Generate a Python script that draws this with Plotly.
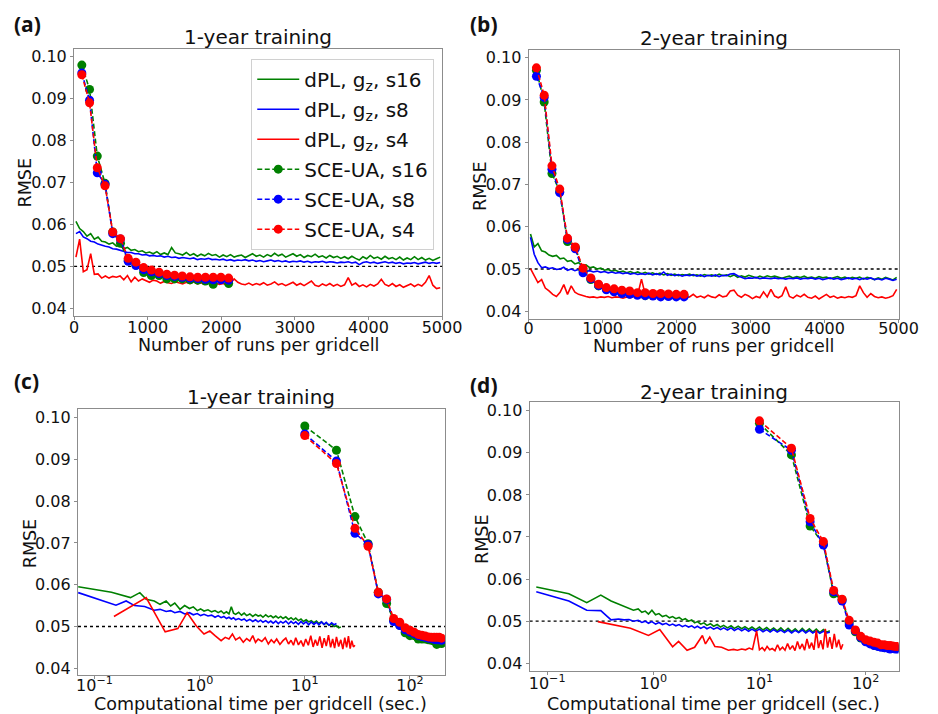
import plotly.graph_objects as go

W, H = 938, 714

# ---------------- data ----------------
# dPL runs grid (panels a, b)
runs_dpl = list(range(25, 5000, 50))

green_a = [
    0.0607, 0.0590, 0.0583, 0.0572, 0.0578, 0.0565, 0.0570, 0.0560, 0.0558, 0.0553,
    0.0556, 0.0548, 0.0550, 0.0542, 0.0545, 0.0538, 0.0540, 0.0535, 0.0537, 0.0532,
    0.0534, 0.0530, 0.0535, 0.0528, 0.0532, 0.0528, 0.0545, 0.0532, 0.0530, 0.0527,
    0.0533, 0.0526, 0.0530, 0.0524, 0.0529, 0.0525, 0.0531, 0.0526, 0.0528, 0.0522,
    0.0527, 0.0523, 0.0528, 0.0522, 0.0525, 0.0527, 0.0521, 0.0526, 0.0530, 0.0524,
    0.0527, 0.0522, 0.0528, 0.0524, 0.0531, 0.0525, 0.0529, 0.0522, 0.0527, 0.0530,
    0.0524, 0.0528, 0.0521, 0.0526, 0.0523, 0.0529, 0.0522, 0.0525, 0.0520, 0.0526,
    0.0521, 0.0524, 0.0519, 0.0523, 0.0518, 0.0524, 0.0519, 0.0515, 0.0523, 0.0518,
    0.0526, 0.0519, 0.0522, 0.0517, 0.0524, 0.0518, 0.0521, 0.0516, 0.0522, 0.0515,
    0.0520, 0.0516, 0.0523, 0.0516, 0.0521, 0.0515, 0.0519, 0.0514, 0.0518, 0.0522]
blue_a = [
    0.0578, 0.0583, 0.0570, 0.0566, 0.0560, 0.0558, 0.0553, 0.0550, 0.0548, 0.0546,
    0.0542, 0.0541, 0.0538, 0.0536, 0.0533, 0.0533, 0.0530, 0.0530, 0.0527, 0.0528,
    0.0525, 0.0526, 0.0524, 0.0525, 0.0522, 0.0524, 0.0521, 0.0522, 0.0519, 0.0521,
    0.0520, 0.0518, 0.0520, 0.0516, 0.0518, 0.0517, 0.0519, 0.0516, 0.0517, 0.0515,
    0.0517, 0.0514, 0.0516, 0.0513, 0.0515, 0.0514, 0.0516, 0.0513, 0.0515, 0.0512,
    0.0514, 0.0511, 0.0513, 0.0515, 0.0512, 0.0514, 0.0511, 0.0513, 0.0510, 0.0512,
    0.0511, 0.0513, 0.0510, 0.0512, 0.0509, 0.0511, 0.0510, 0.0512, 0.0509, 0.0511,
    0.0510, 0.0508, 0.0510, 0.0509, 0.0511, 0.0508, 0.0510, 0.0504, 0.0509, 0.0511,
    0.0508, 0.0510, 0.0507, 0.0509, 0.0511, 0.0508, 0.0510, 0.0507, 0.0509, 0.0506,
    0.0508, 0.0507, 0.0509, 0.0506, 0.0508, 0.0510, 0.0507, 0.0509, 0.0507, 0.0509]
red_a = [
    0.0522, 0.0565, 0.0487, 0.0492, 0.0530, 0.0481, 0.0482, 0.0472, 0.0477, 0.0472,
    0.0476, 0.0474, 0.0477, 0.0468, 0.0478, 0.0463, 0.0474, 0.0465, 0.0470, 0.0466,
    0.0462, 0.0467, 0.0465, 0.0460, 0.0464, 0.0461, 0.0459, 0.0463, 0.0460, 0.0458,
    0.0462, 0.0459, 0.0463, 0.0458, 0.0461, 0.0457, 0.0462, 0.0458, 0.0460, 0.0457,
    0.0459, 0.0456, 0.0460, 0.0470, 0.0462, 0.0458, 0.0456, 0.0460, 0.0455, 0.0459,
    0.0456, 0.0461, 0.0455, 0.0458, 0.0463, 0.0456, 0.0459, 0.0454, 0.0458, 0.0462,
    0.0455, 0.0459, 0.0454, 0.0460, 0.0465, 0.0455, 0.0452, 0.0458, 0.0454, 0.0459,
    0.0453, 0.0457, 0.0452, 0.0456, 0.0473, 0.0455, 0.0460, 0.0452, 0.0456, 0.0451,
    0.0457, 0.0453, 0.0458, 0.0469, 0.0457, 0.0453, 0.0459, 0.0452, 0.0456, 0.0450,
    0.0455, 0.0458, 0.0452, 0.0457, 0.0453, 0.0462, 0.0478, 0.0455, 0.0447, 0.0449]

green_b = [
    0.0583, 0.0552, 0.0560, 0.0543, 0.0540, 0.0533, 0.0530, 0.0532, 0.0524, 0.0526,
    0.0518, 0.0520, 0.0512, 0.0515, 0.0508, 0.0510, 0.0503, 0.0505, 0.0500, 0.0502,
    0.0497, 0.0499, 0.0495, 0.0497, 0.0493, 0.0495, 0.0491, 0.0494, 0.0490, 0.0493,
    0.0489, 0.0492, 0.0488, 0.0491, 0.0487, 0.0490, 0.0486, 0.0489, 0.0485, 0.0488,
    0.0484, 0.0487, 0.0485, 0.0488, 0.0484, 0.0486, 0.0483, 0.0487, 0.0484, 0.0486,
    0.0483, 0.0488, 0.0484, 0.0486, 0.0482, 0.0486, 0.0480, 0.0484, 0.0481, 0.0485,
    0.0482, 0.0479, 0.0483, 0.0480, 0.0484, 0.0481, 0.0483, 0.0480, 0.0478, 0.0481,
    0.0483, 0.0479, 0.0482, 0.0480, 0.0483, 0.0479, 0.0481, 0.0478, 0.0482, 0.0479,
    0.0481, 0.0477, 0.0480, 0.0482, 0.0478, 0.0481, 0.0477, 0.0480, 0.0478, 0.0481,
    0.0476, 0.0480, 0.0478, 0.0475, 0.0479, 0.0476, 0.0480, 0.0477, 0.0474, 0.0480]
blue_b = [
    0.0575, 0.0535, 0.0515, 0.0503, 0.0505, 0.0501, 0.0503, 0.0499, 0.0500, 0.0504,
    0.0497, 0.0500, 0.0496, 0.0499, 0.0495, 0.0494, 0.0496, 0.0493, 0.0495, 0.0492,
    0.0494, 0.0491, 0.0493, 0.0490, 0.0492, 0.0489, 0.0491, 0.0488, 0.0490, 0.0487,
    0.0489, 0.0487, 0.0490, 0.0486, 0.0489, 0.0486, 0.0493, 0.0485, 0.0488, 0.0484,
    0.0487, 0.0483, 0.0486, 0.0484, 0.0487, 0.0483, 0.0486, 0.0482, 0.0485, 0.0483,
    0.0486, 0.0482, 0.0485, 0.0484, 0.0488, 0.0489, 0.0484, 0.0480, 0.0477, 0.0479,
    0.0478, 0.0480, 0.0477, 0.0479, 0.0478, 0.0477, 0.0479, 0.0477, 0.0478, 0.0476,
    0.0478, 0.0477, 0.0479, 0.0476, 0.0478, 0.0477, 0.0479, 0.0476, 0.0478, 0.0475,
    0.0477, 0.0479, 0.0476, 0.0478, 0.0475, 0.0477, 0.0479, 0.0476, 0.0478, 0.0475,
    0.0478, 0.0476, 0.0479, 0.0475, 0.0477, 0.0474, 0.0478, 0.0476, 0.0473, 0.0476]
red_b = [
    0.0501, 0.0485, 0.0468, 0.0475, 0.0455, 0.0448, 0.0440, 0.0435, 0.0445, 0.0463,
    0.0440, 0.0460, 0.0445, 0.0440, 0.0437, 0.0435, 0.0433, 0.0434, 0.0432, 0.0434,
    0.0433, 0.0435, 0.0432, 0.0434, 0.0433, 0.0431, 0.0434, 0.0432, 0.0435, 0.0440,
    0.0476, 0.0440, 0.0434, 0.0432, 0.0435, 0.0433, 0.0436, 0.0432, 0.0434, 0.0431,
    0.0433, 0.0435, 0.0432, 0.0434, 0.0440, 0.0433, 0.0436, 0.0432, 0.0438, 0.0434,
    0.0432, 0.0439, 0.0434, 0.0436, 0.0448, 0.0450, 0.0438, 0.0433, 0.0440, 0.0436,
    0.0430, 0.0435, 0.0432, 0.0446, 0.0434, 0.0452, 0.0436, 0.0432, 0.0437, 0.0458,
    0.0435, 0.0431, 0.0438, 0.0434, 0.0440, 0.0433, 0.0431, 0.0436, 0.0429, 0.0434,
    0.0440, 0.0433, 0.0436, 0.0431, 0.0434, 0.0432, 0.0435, 0.0433, 0.0437, 0.0460,
    0.0444, 0.0433, 0.0442, 0.0435, 0.0432, 0.0434, 0.0431, 0.0433, 0.0437, 0.0452]

# SCE-UA: runs (a, b) and computational time (c, d)
runs_sce = [105, 210, 315, 420, 525, 630, 735, 840, 945, 1050,
            1155, 1260, 1365, 1470, 1575, 1680, 1785, 1890, 1995, 2100]
time_sce = [10, 20, 30, 40, 50, 60, 70, 80, 90, 100,
            110, 120, 130, 140, 150, 160, 170, 180, 190, 200]
sce_green_1y = [0.0980, 0.0922, 0.0763, 0.0698, 0.0582, 0.0555, 0.0515, 0.0503, 0.0485, 0.0478,
                0.0478, 0.0470, 0.0470, 0.0470, 0.0468, 0.0467, 0.0465, 0.0457, 0.0469, 0.0459]
sce_blue_1y = [0.0961, 0.0896, 0.0723, 0.0696, 0.0578, 0.0565, 0.0512, 0.0502, 0.0492, 0.0487,
               0.0483, 0.0478, 0.0476, 0.0474, 0.0472, 0.0471, 0.0469, 0.0468, 0.0468, 0.0467]
sce_red_1y = [0.0957, 0.0890, 0.0735, 0.0692, 0.0582, 0.0566, 0.0519, 0.0510, 0.0497, 0.0491,
              0.0486, 0.0481, 0.0479, 0.0477, 0.0475, 0.0474, 0.0474, 0.0474, 0.0474, 0.0472]
sce_green_2y = [0.0970, 0.0895, 0.0726, 0.0683, 0.0565, 0.0551, 0.0497, 0.0475, 0.0460, 0.0453,
                0.0448, 0.0443, 0.0441, 0.0440, 0.0437, 0.0439, 0.0437, 0.0437, 0.0436, 0.0437]
sce_blue_2y = [0.0956, 0.0906, 0.0736, 0.0681, 0.0570, 0.0548, 0.0491, 0.0477, 0.0461, 0.0451,
               0.0446, 0.0442, 0.0440, 0.0438, 0.0437, 0.0436, 0.0434, 0.0435, 0.0434, 0.0434]
sce_red_2y = [0.0976, 0.0911, 0.0744, 0.0689, 0.0573, 0.0552, 0.0502, 0.0479, 0.0464, 0.0456,
              0.0453, 0.0450, 0.0448, 0.0444, 0.0444, 0.0442, 0.0442, 0.0441, 0.0440, 0.0440]

# dPL vs computational time (c)
t_c_green = [0.07, 0.145, 0.22, 0.27, 0.31, 0.37, 0.42, 0.48, 0.53, 0.58,
             0.65, 0.72, 0.80, 0.87, 0.95, 1.02, 1.1, 1.2, 1.3, 1.4,
             1.5, 1.6, 1.7, 1.8, 1.9, 2.0, 2.1, 2.2, 2.35, 2.5,
             2.65, 2.8, 3.0, 3.2, 3.4, 3.6, 3.8, 4.0, 4.25, 4.5,
             4.75, 5.0, 5.3, 5.6, 5.9, 6.2, 6.6, 7.0, 7.4, 7.8,
             8.2, 8.7, 9.2, 9.7, 10.3, 10.9, 11.5, 12.2, 12.9, 13.6,
             14.4, 15.2, 16.0, 17.0, 18.0, 19.0, 20.0, 21.0, 22.0]
r_c_green = [0.0595, 0.0582, 0.0569, 0.0581, 0.0565, 0.0561, 0.0553, 0.0561, 0.0549, 0.0556,
             0.0541, 0.0550, 0.0543, 0.0547, 0.0538, 0.0542, 0.0537, 0.0540, 0.0535, 0.0538,
             0.0533, 0.0537, 0.0531, 0.0535, 0.0530, 0.0547, 0.0532, 0.0529, 0.0534, 0.0527,
             0.0532, 0.0526, 0.0530, 0.0524, 0.0529, 0.0525, 0.0527, 0.0522, 0.0528, 0.0523,
             0.0526, 0.0521, 0.0525, 0.0520, 0.0524, 0.0519, 0.0523, 0.0517, 0.0521, 0.0516,
             0.0520, 0.0514, 0.0518, 0.0512, 0.0516, 0.0511, 0.0514, 0.0509, 0.0513, 0.0507,
             0.0511, 0.0505, 0.0508, 0.0503, 0.0506, 0.0500, 0.0502, 0.0497, 0.0499]
t_c_blue = [0.07, 0.16, 0.20, 0.24, 0.30, 0.37, 0.42, 0.48, 0.53, 0.58,
            0.65, 0.72, 0.80, 0.87, 0.95, 1.02, 1.1, 1.2, 1.3, 1.4,
            1.5, 1.6, 1.7, 1.8, 1.9, 2.0, 2.1, 2.2, 2.35, 2.5,
            2.65, 2.8, 3.0, 3.2, 3.4, 3.6, 3.8, 4.0, 4.25, 4.5,
            4.75, 5.0, 5.3, 5.6, 5.9, 6.2, 6.6, 7.0, 7.4, 7.8,
            8.2, 8.7, 9.2, 9.7, 10.3, 10.9, 11.5, 12.2, 12.9, 13.6,
            14.4, 15.2, 16.0, 17.0, 18.0, 19.0, 20.0]
r_c_blue = [0.0581, 0.0551, 0.0561, 0.0550, 0.0548, 0.0539, 0.0541, 0.0536, 0.0538, 0.0533,
            0.0536, 0.0530, 0.0533, 0.0528, 0.0531, 0.0526, 0.0529, 0.0525, 0.0527, 0.0522,
            0.0526, 0.0521, 0.0524, 0.0519, 0.0522, 0.0518, 0.0521, 0.0516, 0.0519, 0.0515,
            0.0518, 0.0513, 0.0517, 0.0512, 0.0516, 0.0511, 0.0515, 0.0510, 0.0514, 0.0509,
            0.0513, 0.0508, 0.0513, 0.0507, 0.0512, 0.0508, 0.0513, 0.0506, 0.0512, 0.0507,
            0.0511, 0.0505, 0.0512, 0.0506, 0.0511, 0.0504, 0.0511, 0.0505, 0.0510, 0.0504,
            0.0511, 0.0505, 0.0510, 0.0503, 0.0509, 0.0504, 0.0507]
t_c_red = [0.153, 0.31, 0.47, 0.62, 0.76, 0.93, 1.1, 1.25, 1.4, 1.6,
           1.75, 1.9, 2.05, 2.2, 2.4, 2.6, 2.8, 3.0, 3.2, 3.4,
           3.6, 3.9, 4.2, 4.5, 4.8, 5.1, 5.4, 5.8, 6.2, 6.6,
           7.0, 7.4, 7.8, 8.2, 8.7, 9.2, 9.7, 10.2, 10.8, 11.4,
           12.0, 12.6, 13.2, 13.9, 14.6, 15.3, 16.0, 16.8, 17.6, 18.4,
           19.2, 20.0, 21.0, 22.0, 23.0, 24.0, 25.0, 26.0, 27.0, 28.0, 29.0, 30.0]
r_c_red = [0.0524, 0.0569, 0.0487, 0.0495, 0.0533, 0.0501, 0.0482, 0.0489, 0.0478, 0.0466,
           0.0474, 0.0470, 0.0482, 0.0468, 0.0474, 0.0462, 0.0471, 0.0465, 0.0478, 0.0462,
           0.0470, 0.0464, 0.0473, 0.0458, 0.0468, 0.0461, 0.0470, 0.0457, 0.0466, 0.0472,
           0.0458, 0.0467, 0.0455, 0.0473, 0.0456, 0.0466, 0.0452, 0.0470, 0.0455, 0.0478,
           0.0451, 0.0468, 0.0454, 0.0476, 0.0449, 0.0472, 0.0453, 0.0479, 0.0450, 0.0470,
           0.0448, 0.0475, 0.0452, 0.0468, 0.0446, 0.0473, 0.0450, 0.0477, 0.0447, 0.0466, 0.0451, 0.0455]

# dPL vs computational time (d)
t_d = [0.079, 0.16, 0.236, 0.32, 0.40, 0.47, 0.53, 0.59, 0.65, 0.72,
       0.78, 0.84, 0.90, 0.97, 1.05, 1.13, 1.22, 1.32, 1.42, 1.52,
       1.63, 1.75, 1.88, 2.0, 2.15, 2.3, 2.45, 2.6, 2.8, 3.0,
       3.2, 3.45, 3.7, 4.0, 4.3, 4.6, 5.0, 5.4, 5.8, 6.3,
       6.8, 7.3, 7.9, 8.5, 9.2, 10.0, 10.8, 11.7, 12.6, 13.6,
       14.7, 15.9, 17.2, 18.6, 20.1, 21.7, 23.4, 25.3, 27.3, 29.5,
       31.8, 34.3, 37.0, 40.0, 43.0, 46.0]
r_d_green = [0.0581, 0.0565, 0.0544, 0.0562, 0.0548, 0.0541, 0.0534, 0.0530, 0.0526, 0.0529,
             0.0521, 0.0524, 0.0517, 0.0526, 0.0515, 0.0518, 0.0511, 0.0514, 0.0508, 0.0511,
             0.0506, 0.0509, 0.0503, 0.0506, 0.0500, 0.0503, 0.0496, 0.0499, 0.0493, 0.0496,
             0.0490, 0.0494, 0.0488, 0.0492, 0.0486, 0.0490, 0.0484, 0.0489, 0.0483, 0.0488,
             0.0482, 0.0487, 0.0481, 0.0486, 0.0480, 0.0486, 0.0479, 0.0485, 0.0478, 0.0484,
             0.0477, 0.0484, 0.0476, 0.0483, 0.0475, 0.0482, 0.0474, 0.0483, 0.0475, 0.0482,
             0.0474, 0.0481, 0.0473, 0.0480, 0.0474, 0.0477]
r_d_blue = [0.0570, 0.0548, 0.0526, 0.0525, 0.0503, 0.0505, 0.0503, 0.0504, 0.0500, 0.0502,
            0.0497, 0.0500, 0.0495, 0.0499, 0.0493, 0.0497, 0.0492, 0.0495, 0.0490, 0.0493,
            0.0489, 0.0492, 0.0487, 0.0490, 0.0486, 0.0489, 0.0484, 0.0488, 0.0483, 0.0487,
            0.0482, 0.0486, 0.0481, 0.0485, 0.0480, 0.0484, 0.0479, 0.0484, 0.0478, 0.0483,
            0.0477, 0.0482, 0.0476, 0.0481, 0.0476, 0.0481, 0.0475, 0.0480, 0.0474, 0.0480,
            0.0474, 0.0479, 0.0473, 0.0479, 0.0472, 0.0478, 0.0473, 0.0479, 0.0472, 0.0478,
            0.0472, 0.0477, 0.0471, 0.0476, 0.0472, 0.0474]
t_d_red = [0.30, 0.61, 0.90, 1.15, 1.52, 1.73, 2.08, 2.45, 2.9, 3.1,
           3.4, 3.8, 4.4, 5.1, 5.7, 6.2, 6.8, 7.4, 8.0, 8.6,
           9.4, 10.0, 10.6, 11.2, 11.8, 12.5, 13.2, 14.0, 14.8, 15.6,
           16.5, 17.4, 18.4, 19.4, 20.5, 21.6, 22.8, 24.0, 25.3, 26.6,
           28.0, 29.5, 31.0, 32.6, 34.3, 36.0, 37.8, 39.7, 41.7, 43.8,
           46.0, 48.3, 50.7, 53.2, 55.8, 58.5, 61.0]
r_d_red = [0.0499, 0.0483, 0.0466, 0.0480, 0.0439, 0.0452, 0.0431, 0.0438, 0.0466, 0.0446,
           0.0462, 0.0440, 0.0438, 0.0431, 0.0433, 0.0431, 0.0434, 0.0432, 0.0436, 0.0433,
           0.0477, 0.0432, 0.0437, 0.0430, 0.0440, 0.0432, 0.0435, 0.0430, 0.0444, 0.0432,
           0.0438, 0.0431, 0.0447, 0.0433, 0.0442, 0.0430, 0.0452, 0.0434, 0.0446, 0.0431,
           0.0458, 0.0435, 0.0449, 0.0432, 0.0478, 0.0436, 0.0455, 0.0433, 0.0482, 0.0437,
           0.0462, 0.0434, 0.0470, 0.0438, 0.0456, 0.0433, 0.0445]

for a, b in [(runs_dpl, green_a), (runs_dpl, blue_a), (runs_dpl, red_a),
             (runs_dpl, green_b), (runs_dpl, blue_b), (runs_dpl, red_b),
             (t_c_green, r_c_green), (t_c_blue, r_c_blue), (t_c_red, r_c_red),
             (t_d, r_d_green), (t_d, r_d_blue), (t_d_red, r_d_red)]:
    assert len(a) == len(b), (len(a), len(b))

names_dpl = ["dPL, g<sub>z</sub>, s16", "dPL, g<sub>z</sub>, s8", "dPL, g<sub>z</sub>, s4"]
names_sce = ["SCE-UA, s16", "SCE-UA, s8", "SCE-UA, s4"]
colors = ["#008000", "#0000ff", "#ff0000"]
yticks = [0.04, 0.05, 0.06, 0.07, 0.08, 0.09, 0.10]
yticklabels = ["0.04", "0.05", "0.06", "0.07", "0.08", "0.09", "0.10"]
xticks_runs = [0, 1000, 2000, 3000, 4000, 5000]
xticks_time = [0.1, 1, 10, 100]
xticklabels_time = ["10<sup>\u22121</sup>", "10<sup>0</sup>", "10<sup>1</sup>", "10<sup>2</sup>"]

# ---------------- figure ----------------
fig = go.Figure()

panels = [
    ("x", "y", [(runs_dpl, green_a), (runs_dpl, blue_a), (runs_dpl, red_a)],
     runs_sce, [sce_green_1y, sce_blue_1y, sce_red_1y], True),
    ("x2", "y2", [(runs_dpl, green_b), (runs_dpl, blue_b), (runs_dpl, red_b)],
     runs_sce, [sce_green_2y, sce_blue_2y, sce_red_2y], False),
    ("x3", "y3", [(t_c_green, r_c_green), (t_c_blue, r_c_blue), (t_c_red, r_c_red)],
     time_sce, [sce_green_1y, sce_blue_1y, sce_red_1y], False),
    ("x4", "y4", [(t_d, r_d_green), (t_d, r_d_blue), (t_d_red, r_d_red)],
     time_sce, [sce_green_2y, sce_blue_2y, sce_red_2y], False),
]

for xa, ya, dpl, xs, sces, show in panels:
    for (xx, yy), c, n in zip(dpl, colors, names_dpl):
        fig.add_trace(go.Scatter(x=xx, y=yy, mode="lines", name=n, showlegend=show,
                                 legendgroup=n,
                                 line=dict(color=c, width=1.6), xaxis=xa, yaxis=ya))
    for yy, c, n in zip(sces, colors, names_sce):
        fig.add_trace(go.Scatter(x=xs, y=yy, mode="lines+markers", name=n, showlegend=show,
                                 legendgroup=n,
                                 line=dict(color=c, width=1.6, dash="5px,2.5px"),
                                 marker=dict(color=c, size=9),
                                 xaxis=xa, yaxis=ya))
    fig.add_shape(type="line", xref=f"{xa} domain", yref=ya, x0=0, x1=1, y0=0.05, y1=0.05,
                  line=dict(color="black", width=1.4, dash="dot"), layer="below")

def px2paper(x0, x1, y0, y1):
    return [x0 / W, x1 / W], [1 - y1 / H, 1 - y0 / H]

boxes = {
    "a": (71, 449, 48, 317),
    "b": (538, 918, 49, 320),
    "c": (75, 452, 410, 678),
    "d": (539, 918, 403, 674),
}

tickfont = dict(family="DejaVu Sans", size=16, color="#111111")
common = dict(showline=True, mirror=True, linecolor="#8c8c8c", linewidth=1.2,
              ticks="outside", ticklen=3, tickcolor="#8c8c8c", tickwidth=1,
              showgrid=False, zeroline=False, tickfont=tickfont)

layout_axes = {}
yranges = {"a": [0.0381, 0.1019], "b": [0.03812, 0.10188], "c": [0.03833, 0.10214], "d": [0.03811, 0.10213]}
standoffs = {"a": -7, "b": -9, "c": -8, "d": -6}
for key, xname, yname, logx, xr in [("a", "xaxis", "yaxis", False, [0, 5000]),
                                    ("b", "xaxis2", "yaxis2", False, [0, 5000]),
                                    ("c", "xaxis3", "yaxis3", True, [-1.157, 2.333]),
                                    ("d", "xaxis4", "yaxis4", True, [-1.165, 2.31])]:
    dx, dy = px2paper(*boxes[key])
    xid = "x" if xname == "xaxis" else "x" + xname[-1]
    yid = "y" if yname == "yaxis" else "y" + yname[-1]
    if logx:
        xa = dict(type="log", range=xr, tickvals=xticks_time, ticktext=xticklabels_time)
    else:
        xa = dict(range=xr, tickvals=xticks_runs, ticktext=[str(v) for v in xticks_runs])
    xa.update(domain=dx, anchor=yid, ticklabelstandoff=standoffs[key], **common)
    ya = dict(range=yranges[key], tickvals=yticks, ticktext=yticklabels, domain=dy, anchor=xid, **common)
    layout_axes[xname] = xa
    layout_axes[yname] = ya

fig.update_layout(**layout_axes)

annotations = []
def ann(text, x, y, size, bold=False, family="DejaVu Sans", angle=0, yshift=0):
    annotations.append(dict(text=f"<b>{text}</b>" if bold else text, x=x / W, y=1 - y / H,
                            xref="paper", yref="paper", showarrow=False, textangle=angle,
                            xanchor="center", yanchor="middle", yshift=yshift,
                            font=dict(family=family, size=size, color="#111111")))

# panel labels
ann("(a)", 23, 23, 21, bold=True, family="Open Sans")
ann("(b)", 492, 23, 21, bold=True, family="Open Sans")
ann("(c)", 22, 382, 21, bold=True, family="Open Sans")
ann("(d)", 492, 386, 21, bold=True, family="Open Sans")
# titles
ann("1-year training", 260, 36, 20)
ann("2-year training", 728, 37, 20)
ann("1-year training", 263, 398, 20)
ann("2-year training", 728, 393, 20)
# axis titles
ann("Number of runs per gridcell", 260, 346, 17.5)
ann("Number of runs per gridcell", 728, 347, 17.5)
ann("Computational time per gridcell (sec.)", 263, 700, 17.5, yshift=-7)
ann("Computational time per gridcell (sec.)", 728, 700, 17.5, yshift=-7)
ann("RMSE", 21, 183, 17.5, angle=-90)
ann("RMSE", 488, 186, 17.5, angle=-90)
ann("RMSE", 26, 546, 17.5, angle=-90)
ann("RMSE", 490, 541, 17.5, angle=-90)

fig.update_layout(
    width=W, height=H,
    margin=dict(l=0, r=0, t=0, b=0),
    paper_bgcolor="white", plot_bgcolor="white",
    annotations=annotations,
    showlegend=True,
    legend=dict(x=253 / W, y=1 - 58 / H, xanchor="left", yanchor="top",
                bgcolor="rgba(255,255,255,0.85)", bordercolor="#d0d0d0", borderwidth=1,
                font=dict(family="DejaVu Sans", size=20, color="#111111"),
                itemwidth=42, tracegroupgap=1),
)

fig.write_html("out.html")
